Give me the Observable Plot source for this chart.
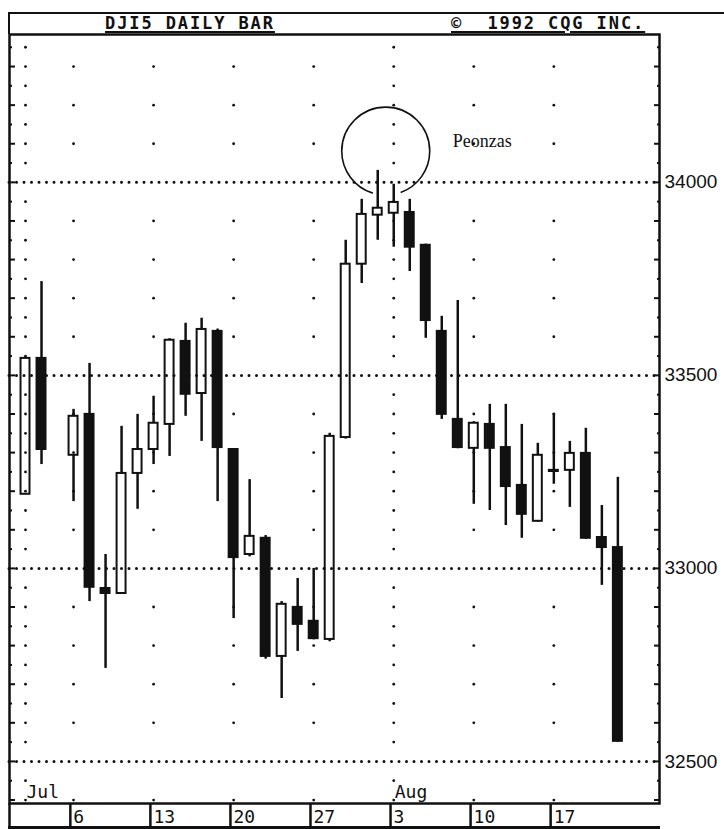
<!DOCTYPE html>
<html><head><meta charset="utf-8">
<script src="https://cdn.jsdelivr.net/npm/d3@7"></script>
<script src="https://cdn.jsdelivr.net/npm/@observablehq/plot@0.6"></script>
<style>
body{margin:0;background:#fff;}
#wrap{position:relative;width:724px;height:829px;overflow:hidden;background:#fff;}
#titlebox{position:absolute;left:8px;top:12px;width:720px;height:22px;border-top:2px solid #111;border-left:2.5px solid #111;box-sizing:border-box;}
.ttl{position:absolute;top:14.5px;font-family:"DejaVu Sans Mono",monospace;font-weight:700;font-size:17px;line-height:17px;letter-spacing:1.9px;text-decoration:underline;text-decoration-thickness:2px;text-underline-offset:1.5px;white-space:pre;color:#111;}
#bottomline{position:absolute;left:8px;top:826px;width:652px;height:2.5px;background:#111;}
#chart{position:absolute;left:0;top:0;}
</style></head>
<body><div id="wrap">
<div id="chart"></div>
<div id="titlebox"></div>
<div class="ttl" id="t1" style="left:105px">DJI5 DAILY BAR</div>
<div class="ttl" id="t2" style="left:451px">©  1992 CQG INC.</div>
<div id="bottomline"></div>
</div>
<script>
// ---- data ----
const dates = ["1992-07-01","1992-07-02","1992-07-06","1992-07-07","1992-07-08","1992-07-09","1992-07-10",
  "1992-07-13","1992-07-14","1992-07-15","1992-07-16","1992-07-17","1992-07-20","1992-07-21","1992-07-22",
  "1992-07-23","1992-07-24","1992-07-27","1992-07-28","1992-07-29","1992-07-30","1992-07-31",
  "1992-08-03","1992-08-04","1992-08-05","1992-08-06","1992-08-07","1992-08-10","1992-08-11","1992-08-12",
  "1992-08-13","1992-08-14","1992-08-17","1992-08-18","1992-08-19","1992-08-20","1992-08-21"];
const open  = [33192,33544,33293,33399,32948,32935,33246,33308,33373,33588,33453,33614,33308,33036,33078,
  32772,32899,32863,32816,33339,33788,33915,33920,33922,33837,33614,33386,33311,33373,33313,33215,33122,
  33251,33254,33298,33080,33054];
const high  = [33548,33743,33412,33531,33036,33368,33399,33446,33595,33635,33648,33620,33310,33230,33085,
  32914,32974,33000,33350,33850,33956,34031,33995,33956,33840,33653,33694,33380,33425,33425,33373,33324,
  33401,33329,33363,33163,33236];
const low   = [33192,33269,33173,32914,32741,32935,33153,33269,33290,33394,33329,33173,32870,33030,32765,
  32663,32785,32815,32810,33335,33738,33850,33832,33769,33596,33386,33310,33166,33150,33111,33078,33120,
  33218,33158,33075,32956,32550];
const close = [33544,33308,33394,32951,32935,33246,33308,33376,33591,33451,33619,33313,33028,33083,32772,
  32907,32855,32818,33342,33788,33917,33933,33948,33832,33642,33399,33313,33376,33311,33212,33140,33293,
  33254,33298,33078,33054,32552];

const yTickLabels = [32500, 33000, 33500, 34000];
const weekStarts = ["1992-07-06","1992-07-13","1992-07-20","1992-07-27","1992-08-03","1992-08-10","1992-08-17"];
const weekLabels = ["6","13","20","27","3","10","17"];
const monthStarts = ["1992-07-01","1992-08-03"];
const monthLabels = ["Jul","Aug"];
const noteDates = ["1992-07-31","1992-08-03"];
const noteLabel = "Peonzas";

// ---- derived ----
const parse = d3.utcParse("%Y-%m-%d");
const t0 = parse(dates[0]);
const tIndex = s => d3.utcDays(t0, parse(s)).filter(d => d.getUTCDay() % 6 !== 0).length;

const candles = dates.map((d, k) => ({i: tIndex(d), o: open[k], h: high[k], l: low[k], c: close[k]}));

const monthIdx = monthStarts.map(tIndex);
const weekIdx = weekStarts.map(tIndex);
const gridPts = [];
for (const i of monthIdx) for (const v of d3.range(32400, 34351, 50)) if (v % 500) gridPts.push({i, v});
for (const i of weekIdx) if (!monthIdx.includes(i)) for (const v of d3.range(32400, 34351, 100)) if (v % 500) gridPts.push({i, v});

const sepMap = new Map(weekIdx.map((i, k) => [i - 0.2, weekLabels[k]]));
const xMin = -1.0, xMax = 39.6;
const sepTicks = [xMin, ...sepMap.keys()];

const noteC = candles.filter(d => noteDates.map(tIndex).includes(d.i));
const note = [{i: d3.mean(noteC, d => d.i), v: d3.max(noteC, d => d.h) + 50, label: noteLabel}];
const R = 44, circ = 2 * Math.PI * R;
const a1 = 70 / 360 * circ, a2 = 37 / 360 * circ;

const ink = "#111";
const chart = Plot.plot({
  width: 724, height: 829,
  marginTop: 34, marginBottom: 26, marginLeft: 9, marginRight: 65,
  style: {color: ink, background: "transparent", overflow: "visible"},
  x: {type: "linear", domain: [xMin, xMax]},
  y: {domain: [32391, 34383]},
  marks: [
    Plot.ruleY(yTickLabels, {stroke: ink, strokeWidth: 3, strokeDasharray: "0,7.5", strokeLinecap: "round"}),
    Plot.dot(gridPts, {x: "i", y: "v", r: 1.4, fill: ink, stroke: null}),
    Plot.ruleX(candles, {x: "i", y1: "h", y2: d => Math.max(d.o, d.c), stroke: ink, strokeWidth: 2.5}),
    Plot.ruleX(candles, {x: "i", y1: "l", y2: d => Math.min(d.o, d.c), stroke: ink, strokeWidth: 2.5}),
    Plot.rect(candles, {x1: d => d.i - 0.28, x2: d => d.i + 0.28, y1: "o", y2: "c",
      fill: d => d.c < d.o ? ink : "none", stroke: ink, strokeWidth: 2}),
    Plot.frame({stroke: ink, strokeWidth: 2.5}),
    // right axis ticks (inward)
    Plot.axisY(d3.range(32400, 34400, 100), {anchor: "right", tickSize: 6, dx: -6, fill: "none", strokeWidth: 2, label: null}),
    Plot.axisY(d3.range(32450, 34400, 100), {anchor: "right", tickSize: 3, dx: -3, fill: "none", strokeWidth: 2, label: null}),
    Plot.axisY(yTickLabels, {anchor: "right", tickSize: 0, tickPadding: 5, tickFormat: d => String(d),
      fontSize: 19, fontFamily: "Liberation Sans", label: null}),
    // left axis ticks (inward)
    Plot.axisY(d3.range(32400, 34400, 100), {anchor: "left", tickSize: 6, dx: 6, fill: "none", strokeWidth: 2, label: null}),
    Plot.axisY(d3.range(32450, 34400, 100), {anchor: "left", tickSize: 3, dx: 3, fill: "none", strokeWidth: 2, label: null}),
    // date row
    Plot.axisX(sepTicks, {anchor: "bottom", tickSize: 26, fill: "none", strokeWidth: 2.5, label: null}),
    Plot.axisX([...sepMap.keys()], {anchor: "bottom", tickSize: 0, tickPadding: 7, tickFormat: d => sepMap.get(d),
      textAnchor: "start", dx: 3, fontSize: 18, fontFamily: "DejaVu Sans Mono", label: null}),
    // month labels
    Plot.text(monthLabels, {x: (d, k) => monthIdx[k], text: d => d, frameAnchor: "bottom", lineAnchor: "bottom",
      textAnchor: "start", dx: 1, dy: -6, fontSize: 18, fontFamily: "DejaVu Sans Mono", fill: ink}),
    // annotation
    Plot.dot(note, {x: "i", y: "v", r: R, fill: "none", stroke: ink, strokeWidth: 1.6,
      strokeDasharray: `${a1},${a2},${circ - a1 - a2},0`}),
    Plot.text(note, {x: "i", y: "v", text: "label", textAnchor: "start", dx: 67, dy: -10,
      fontSize: 18, fontFamily: "Liberation Serif", fill: ink})
  ]
});
document.getElementById("chart").appendChild(chart);
</script>
</body></html>
